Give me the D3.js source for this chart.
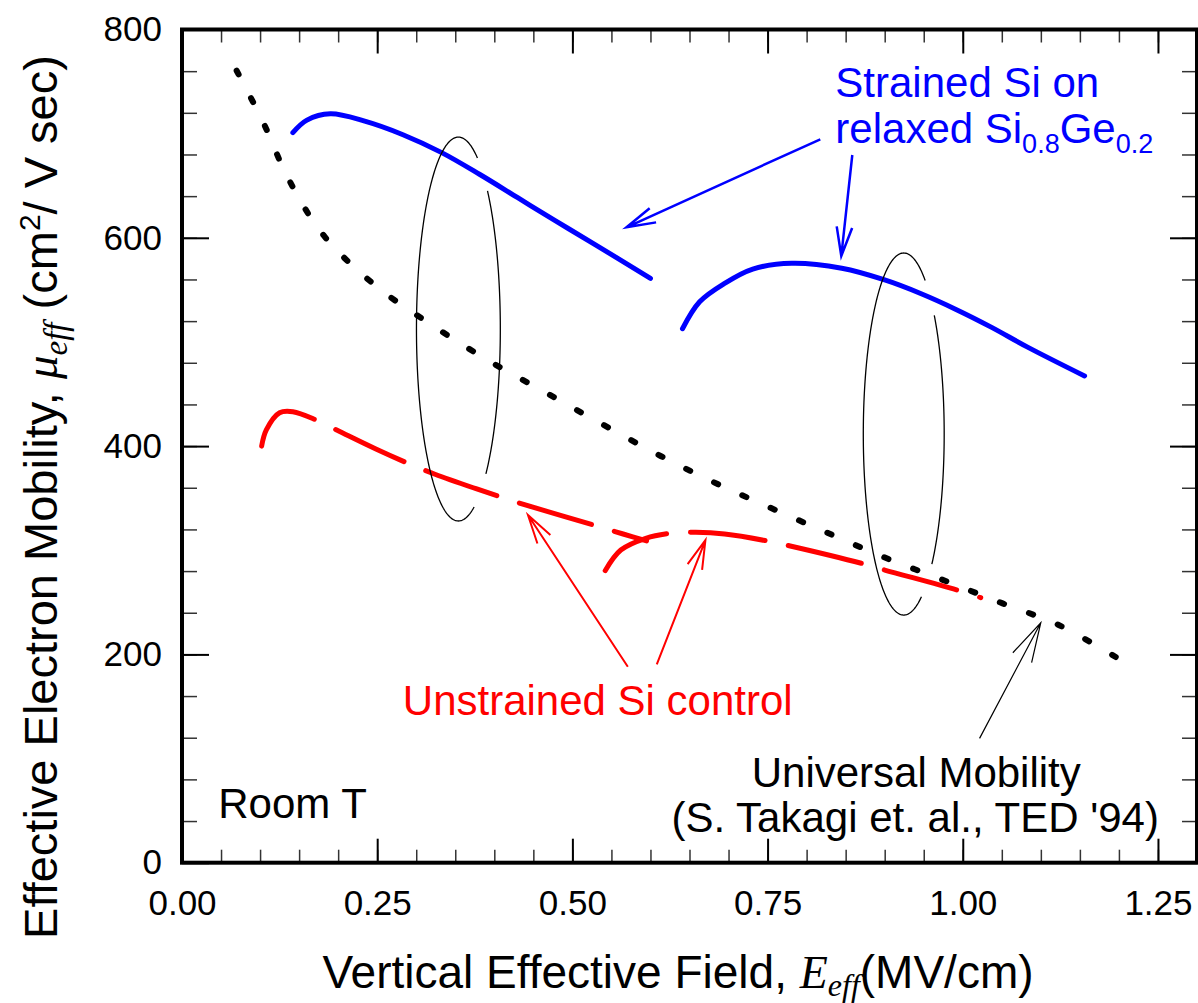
<!DOCTYPE html>
<html>
<head>
<meta charset="utf-8">
<script src="https://cdn.jsdelivr.net/npm/d3@7"></script>
<style>
body{margin:0;background:#fff}
text{font-family:"Liberation Sans",Arial,Helvetica,sans-serif}
</style>
</head>
<body>
<svg id="chart" width="1198" height="1003"></svg>
<script>
// values: E_eff in MV/cm, mobility in cm2/Vs
var strained1 = [[0.142,701],[0.160,713],[0.190,719],[0.234,712],[0.283,699],[0.332,682],[0.381,661],[0.430,638.5],[0.479,616],[0.528,594],[0.600,561]]
var strained2 = [[0.641,512.7],[0.663,538.6],[0.695,556.3],[0.731,570],[0.781,575.5],[0.845,570.7],[0.900,559.5],[0.946,546.5],[0.992,531],[1.037,514],[1.083,495],[1.156,467.3]]
var control1 = [[0.102,400],[0.108,415.5],[0.125,432],[0.142,433],[0.172,425],[0.202,414],[0.249,397],[0.294,382],[0.324,373],[0.373,360],[0.415,349.5],[0.444,342.5],[0.537,322],[0.565,315.6],[0.595,309]]
var control2 = [[0.542,280.4],[0.562,300.2],[0.594,311.5],[0.626,316.3],[0.658,317.2],[0.695,315.6],[0.749,309],[0.779,304.1],[0.870,287.5],[0.900,281],[0.992,262],[1.023,254.5]]
var universal = [[0.070,760.4],[0.104,710.9],[0.136,657.1],[0.181,602.7],[0.2485,553.7],[0.322,515.3],[0.395,481],[0.4675,450.7],[0.540,420.3],[0.613,390.5],[0.686,363.6],[0.760,338.7],[0.833,314.7],[0.905,291.5],[0.978,270.5],[1.051,249],[1.1235,228],[1.1966,197.2]]

var xTicks = [0,0.25,0.5,0.75,1.0,1.25]
var xMinor = d3.range(0,1.2999,0.05)
var yTicks = [0,200,400,600,800]
var yMinor = d3.range(0,801,40)

// ellipses around pairs of curves: centre, radii (data units), visible arcs in degrees
var ellipses = [
	{cx:0.354, cy:512.4, rx:0.0537, ry:184.3, arcs:[[-46,49],[68,297]]},
	{cx:0.9244, cy:411.6, rx:0.0518, ry:173.8, arcs:[[-41,46],[64,302]]}
]
// arrows: [from, to] in data units
var blueArrows = [[[0.8175,694.6],[0.5693,610.1]],[[0.8585,679.5],[0.8444,582.5]]]
var redArrows = [[[0.5710,188.2],[0.4431,333.8]],[[0.6081,190.5],[0.6704,309.8]]]
var blackArrows = [[[1.0215,119.4],[1.0999,230.4]]]

var svg = d3.select("#chart")
var x = d3.scaleLinear().domain([0,1.3]).range([182,1197])
var y = d3.scaleLinear().domain([0,800]).range([862.7,29.5])

// ticks, all pointing inward
function ticks(axis, tx, ty, vals, len, w, col){
	var g = svg.append("g").attr("transform","translate("+tx+","+ty+")")
		.call(axis.tickValues(vals).tickSize(-len).tickFormat(""))
	g.select(".domain").remove()
	g.selectAll("line").attr("stroke",col).attr("stroke-width",w)
	return g
}
ticks(d3.axisBottom(x),0,y(0),xMinor,13,1.5,"#333")
ticks(d3.axisBottom(x),0,y(0),xTicks,24,2,"#000")
ticks(d3.axisTop(x),0,y(800),xMinor,13,1.5,"#333")
ticks(d3.axisTop(x),0,y(800),xTicks,24,2,"#000")
ticks(d3.axisLeft(y),x(0),0,yMinor,15,1.5,"#333")
ticks(d3.axisLeft(y),x(0),0,yTicks,27,2,"#000")
ticks(d3.axisRight(y),x(1.3),0,yMinor,15,1.5,"#333")
ticks(d3.axisRight(y),x(1.3),0,yTicks,27,2,"#000")

// tick labels
var xl = svg.append("g").attr("transform","translate(0,"+y(0)+")")
	.call(d3.axisBottom(x).tickValues(xTicks).tickSize(0).tickPadding(27).tickFormat(d3.format(".2f")))
xl.select(".domain").remove()
xl.selectAll("text").attr("font-size",35).attr("fill","#000")
	.style("font-family","'Liberation Sans',Arial,sans-serif")
var yl = svg.append("g").attr("transform","translate("+x(0)+",0)")
	.call(d3.axisLeft(y).tickValues(yTicks).tickSize(0).tickPadding(20).tickFormat(d3.format("d")))
yl.select(".domain").remove()
yl.selectAll("text").attr("font-size",35).attr("fill","#000")
	.style("font-family","'Liberation Sans',Arial,sans-serif")

// frame
svg.append("rect").attr("x",x(0)).attr("y",y(800)).attr("width",x(1.3)-x(0)).attr("height",y(0)-y(800))
	.attr("fill","none").attr("stroke","#000").attr("stroke-width",4)

var line = d3.line().x(d=>x(d[0])).y(d=>y(d[1])).curve(d3.curveCatmullRom.alpha(0.5))

svg.append("path").datum(universal).attr("d",line).attr("fill","none")
	.attr("stroke","#000").attr("stroke-width",6).attr("stroke-linecap","round").attr("stroke-dasharray","4.5,26.5")

;[control1,control2].forEach(function(s){
	svg.append("path").datum(s).attr("d",line).attr("fill","none")
		.attr("stroke","#ff0000").attr("stroke-width",5).attr("stroke-linecap","round").attr("stroke-dasharray","75,24")
})
;[strained1,strained2].forEach(function(s){
	svg.append("path").datum(s).attr("d",line).attr("fill","none")
		.attr("stroke","#0000ff").attr("stroke-width",5).attr("stroke-linecap","round")
})

// ellipses, broken where the curves pass in front
var plain = d3.line().x(d=>x(d[0])).y(d=>y(d[1]))
ellipses.forEach(function(e){
	e.arcs.forEach(function(a){
		var pts = d3.range(a[0],a[1]+0.01,1).map(function(deg){
			var t = deg*Math.PI/180
			return [e.cx+e.rx*Math.cos(t), e.cy-e.ry*Math.sin(t)]
		})
		svg.append("path").attr("d",plain(pts)).attr("fill","none").attr("stroke","#000").attr("stroke-width",1.3)
	})
})

// arrows with open heads
function arrow(a,col,w,head){
	var p0=[x(a[0][0]),y(a[0][1])], p1=[x(a[1][0]),y(a[1][1])]
	var ang = Math.atan2(p0[1]-p1[1],p0[0]-p1[0]), s=15*Math.PI/180
	var b1=[p1[0]+head*Math.cos(ang+s),p1[1]+head*Math.sin(ang+s)]
	var b2=[p1[0]+head*Math.cos(ang-s),p1[1]+head*Math.sin(ang-s)]
	svg.append("path").attr("d","M"+p0+"L"+p1+"M"+b1+"L"+p1+"L"+b2)
		.attr("fill","none").attr("stroke",col).attr("stroke-width",w)
}
blueArrows.forEach(a=>arrow(a,"#0000ff",2.5,30))
redArrows.forEach(a=>arrow(a,"#ff0000",2,30))
blackArrows.forEach(a=>arrow(a,"#000",1.2,41))

// annotations
var t1 = svg.append("text").attr("x",x(0.8368)).attr("y",y(735.5)).attr("font-size",42).attr("fill","#0000ff").text("Strained Si on")
var t2 = svg.append("text").attr("x",x(0.8368)).attr("y",y(691)).attr("font-size",42).attr("fill","#0000ff")
t2.append("tspan").text("relaxed Si")
t2.append("tspan").attr("font-size",27).attr("dy",10).text("0.8")
t2.append("tspan").attr("dy",-10).text("Ge")
t2.append("tspan").attr("font-size",27).attr("dy",10).text("0.2")

svg.append("text").attr("x",x(0.2828)).attr("y",y(141.8)).attr("font-size",42).attr("fill","#ff0000").text("Unstrained Si control")
svg.append("text").attr("x",x(0.9404)).attr("y",y(73)).attr("font-size",42).attr("text-anchor","middle").text("Universal Mobility")
svg.append("text").attr("x",x(0.9391)).attr("y",y(29.8)).attr("font-size",42).attr("text-anchor","middle").text("(S. Takagi et. al., TED '94)")
svg.append("text").attr("x",x(0.0464)).attr("y",y(42.6)).attr("font-size",42).text("Room T")

// axis titles
var serif = "'Liberation Serif','Times New Roman',serif"
var xt = svg.append("text").attr("x",678).attr("y",988).attr("font-size",46).attr("text-anchor","middle")
xt.append("tspan").text("Vertical Effective Field, ")
xt.append("tspan").style("font-family",serif).attr("font-style","italic").text("E")
xt.append("tspan").style("font-family",serif).attr("font-style","italic").attr("font-size",32).attr("dy",8).text("eff")
xt.append("tspan").attr("dy",-8).text("(MV/cm)")

var yt = svg.append("text").attr("transform","translate(57,497) rotate(-90)").attr("font-size",47).attr("text-anchor","middle")
yt.append("tspan").text("Effective Electron Mobility, ")
yt.append("tspan").style("font-family",serif).attr("font-style","italic").text("\u03bc")
yt.append("tspan").style("font-family",serif).attr("font-style","italic").attr("font-size",33).attr("dy",10).text("eff")
yt.append("tspan").attr("dy",-10).text(" (cm")
yt.append("tspan").attr("font-size",30).attr("dy",-17).text("2")
yt.append("tspan").attr("dy",17).text("/ V sec)")
</script>
</body>
</html>
